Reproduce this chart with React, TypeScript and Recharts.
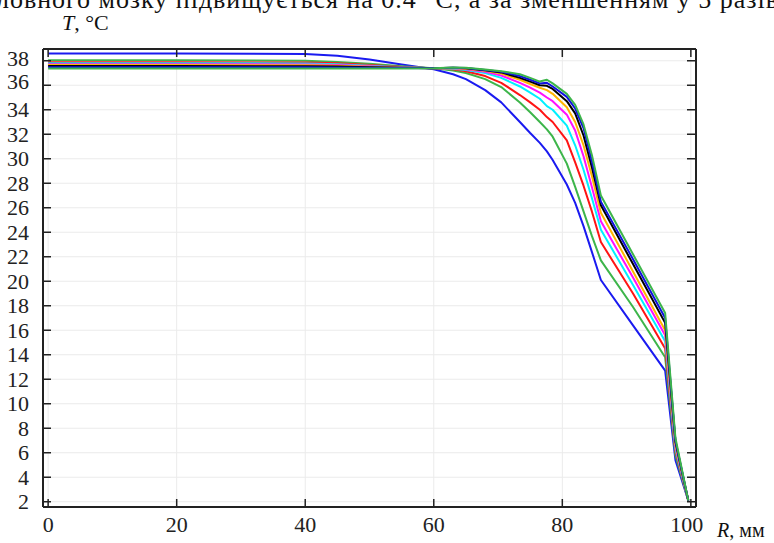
import React from "react";
import {
  LineChart,
  Line,
  XAxis,
  YAxis,
  CartesianGrid,
} from "recharts";

// Radius, mm
const R = [0, 20, 40, 45, 50, 55, 60, 63, 65, 68, 70.5, 73.4, 75, 76.5, 77.6, 78.5, 80.7, 82, 83.3, 84.6, 86, 91, 96, 97.6, 99.6];

// Temperature curves, °C
const blueA = [38.6, 38.6, 38.55, 38.4, 38.1, 37.7, 37.3, 36.9, 36.5, 35.6, 34.6, 33.0, 32.1, 31.3, 30.6, 29.9, 27.9, 26.4, 24.5, 22.4, 20.1, 16.4, 12.7, 5.4, 2.1];
const greenA = [38.05, 38.05, 38.0, 37.9, 37.75, 37.55, 37.38, 37.2, 37.0, 36.5, 35.85, 34.6, 33.8, 33.0, 32.4, 31.8, 29.6, 27.7, 25.7, 23.7, 21.7, 17.9, 13.8, 5.8, 2.1];
const redA = [37.88, 37.88, 37.85, 37.8, 37.65, 37.5, 37.38, 37.3, 37.15, 36.75, 36.2, 35.2, 34.6, 34.0, 33.4, 33.0, 31.5, 29.7, 27.8, 25.7, 23.2, 19.0, 14.5, 6.1, 2.1];
const cyanA = [37.8, 37.8, 37.78, 37.72, 37.6, 37.48, 37.38, 37.35, 37.25, 37.0, 36.6, 35.9, 35.4, 34.9, 34.3, 34.0, 32.7, 31.1, 29.1, 26.8, 24.2, 19.7, 15.1, 6.3, 2.1];
const magentaA = [37.72, 37.72, 37.7, 37.65, 37.55, 37.45, 37.38, 37.38, 37.3, 37.1, 36.8, 36.2, 35.8, 35.4, 35.0, 34.7, 33.6, 32.3, 30.2, 27.7, 24.9, 20.3, 15.6, 6.5, 2.1];
const orangeA = [37.65, 37.65, 37.63, 37.6, 37.52, 37.43, 37.38, 37.4, 37.35, 37.18, 36.95, 36.45, 36.1, 35.8, 35.6, 35.3, 34.2, 33.0, 31.1, 28.6, 25.6, 20.8, 16.0, 6.7, 2.1];
const blackA = [37.57, 37.57, 37.55, 37.53, 37.47, 37.42, 37.38, 37.42, 37.38, 37.22, 37.05, 36.6, 36.3, 36.0, 35.95, 35.7, 34.7, 33.7, 31.9, 29.3, 26.2, 21.4, 16.6, 6.9, 2.1];
const blueB = [37.47, 37.47, 37.46, 37.45, 37.42, 37.4, 37.38, 37.43, 37.4, 37.25, 37.1, 36.75, 36.45, 36.15, 36.2, 35.9, 35.05, 34.1, 32.5, 29.8, 26.5, 21.8, 17.0, 7.0, 2.1];
const greenB = [37.37, 37.37, 37.37, 37.37, 37.37, 37.37, 37.38, 37.45, 37.43, 37.28, 37.15, 36.9, 36.6, 36.3, 36.45, 36.15, 35.3, 34.4, 32.8, 30.3, 27.0, 22.2, 17.4, 7.2, 2.1];

const xTicks = [0, 20, 40, 60, 80, 100];
const yTicks = [2, 4, 6, 8, 10, 12, 14, 16, 18, 20, 22, 24, 26, 28, 30, 32, 34, 36, 38];

const seriesList = [
  { key: "blueA", values: blueA, color: "#1a1af0" },
  { key: "greenA", values: greenA, color: "#3db54a" },
  { key: "redA", values: redA, color: "#ff1414" },
  { key: "cyanA", values: cyanA, color: "#00f0ff" },
  { key: "magentaA", values: magentaA, color: "#ff10ff" },
  { key: "orangeA", values: orangeA, color: "#ffb400" },
  { key: "blackA", values: blackA, color: "#000000" },
  { key: "blueB", values: blueB, color: "#1010e0" },
  { key: "greenB", values: greenB, color: "#3db54a" },
];

const data = R.map((r, i) => {
  const row: Record<string, number> = { r };
  seriesList.forEach((s) => {
    row[s.key] = s.values[i];
  });
  return row;
});

const W = 774;
const H = 543;
const PL = 43;
const PR = 696;
const PT = 49;
const PB = 507;
const FONT = "'Liberation Serif', 'Times New Roman', Times, serif";
const INK = "#222";

const BottomTick = (props: any) => {
  const { x, payload } = props;
  return (
    <g>
      <line x1={x} x2={x} y1={PB} y2={PB - 8} stroke={INK} strokeWidth={1.5} />
      <text x={x - (payload.value === 100 ? 4 : 0)} y={532} textAnchor="middle" fontFamily={FONT} fontSize={22} fill={INK}>
        {payload.value}
      </text>
    </g>
  );
};

const TopTick = (props: any) => {
  const { x } = props;
  return <line x1={x} x2={x} y1={PT} y2={PT + 8} stroke={INK} strokeWidth={1.5} />;
};

const labelShift: Record<number, number> = { 38: -2, 36: -4 };

const LeftTick = (props: any) => {
  const { y, payload } = props;
  const dy = labelShift[payload.value] || 0;
  return (
    <g>
      <line x1={PL} x2={PL + 8} y1={y} y2={y} stroke={INK} strokeWidth={1.5} />
      <text x={29} y={y + 7.5 + dy} textAnchor="end" fontFamily={FONT} fontSize={22} fill={INK}>
        {payload.value}
      </text>
    </g>
  );
};

const RightTick = (props: any) => {
  const { y } = props;
  return <line x1={PR} x2={PR - 9} y1={y} y2={y} stroke={INK} strokeWidth={1.5} />;
};

export default function App() {
  return (
    <div style={{ position: "absolute", left: 0, top: 0, width: W, height: H, background: "#fff" }}>
      <LineChart width={W} height={H} data={data} margin={{ top: 0, right: 0, bottom: 0, left: 0 }}>
        <CartesianGrid stroke="#ebebeb" strokeWidth={1} />
        <XAxis
          dataKey="r"
          type="number"
          domain={[-0.8, 100.8]}
          ticks={xTicks}
          height={PT}
          orientation="top"
          xAxisId="top"
          axisLine={{ stroke: INK, strokeWidth: 2 }}
          tickLine={false}
          tick={TopTick}
          allowDataOverflow
        />
        <XAxis
          dataKey="r"
          type="number"
          domain={[-0.8, 100.8]}
          ticks={xTicks}
          height={H - PB}
          axisLine={{ stroke: INK, strokeWidth: 2 }}
          tickLine={false}
          tick={BottomTick}
          allowDataOverflow
        />
        <YAxis
          type="number"
          domain={[1.57, 38.96]}
          ticks={yTicks}
          width={PL}
          axisLine={{ stroke: INK, strokeWidth: 2 }}
          tickLine={false}
          tick={LeftTick}
          allowDataOverflow
        />
        <YAxis
          yAxisId="right"
          orientation="right"
          type="number"
          domain={[1.57, 38.96]}
          ticks={yTicks}
          width={W - PR}
          axisLine={{ stroke: INK, strokeWidth: 2 }}
          tickLine={false}
          tick={RightTick}
          allowDataOverflow
        />
        {seriesList.map((s) => (
          <Line
            key={s.key}
            dataKey={s.key}
            type="linear"
            stroke={s.color}
            strokeWidth={2}
            strokeLinejoin="round"
            dot={false}
            isAnimationActive={false}
          />
        ))}
      </LineChart>
      <svg width={W} height={H} style={{ position: "absolute", left: 0, top: 0, pointerEvents: "none" }}>
        <text x={-4} y={8} fontFamily={FONT} fontSize={26} fill="#111" textLength={782} lengthAdjust="spacing">
          ловного мозку підвищується на 0.4 °C, а за зменшенням у 5 разів
        </text>
        <text x={62} y={30} fontFamily={FONT} fontSize={22} fill="#111">
          <tspan fontStyle="italic">T</tspan>, °C
        </text>
        <text x={717} y={537} fontFamily={FONT} fontSize={20} fill="#111">
          <tspan fontStyle="italic">R</tspan>, мм
        </text>
      </svg>
    </div>
  );
}
